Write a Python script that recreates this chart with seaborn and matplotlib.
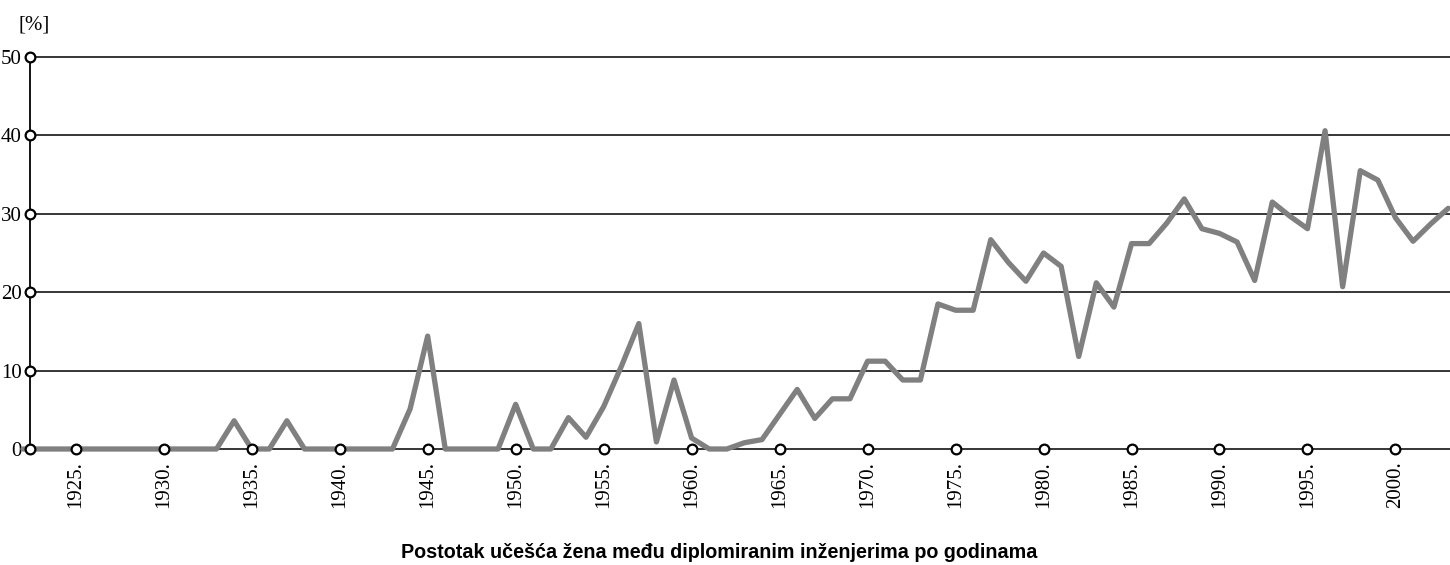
import numpy as np
import pandas as pd
import seaborn as sns
import matplotlib
matplotlib.use("Agg")
import matplotlib.pyplot as plt

# data
years = list(range(1922, 2004))
share = [0, 0, 0, 0, 0, 0, 0, 0, 0, 0,          # 1922-1931
         0, 0, 3.6, 0, 0, 3.6, 0, 0, 0, 0,      # 1932-1941
         0, 0, 5.1, 14.4, 0, 0, 0, 0, 5.7, 0,   # 1942-1951
         0, 4.0, 1.5, 5.4, 10.5, 16.0, 0.9, 8.8, 1.4, 0,   # 1952-1961
         0, 0.8, 1.2, 4.4, 7.6, 3.9, 6.4, 6.4, 11.2, 11.2,  # 1962-1971
         8.8, 8.8, 18.5, 17.7, 17.7, 26.7, 23.8, 21.4, 25.0, 23.3,  # 1972-1981
         11.8, 21.2, 18.1, 26.2, 26.2, 28.8, 31.9, 28.1, 27.5, 26.4,  # 1982-1991
         21.5, 31.5, 29.7, 28.1, 40.6, 20.7, 35.5, 34.3, 29.5, 26.5,  # 1992-2001
         28.7, 30.7]                            # 2002-2003
x_ticks = list(range(1925, 2001, 5))
x_labels = [f"{y}." for y in x_ticks]
y_ticks = [0, 10, 20, 30, 40, 50]
title = "Postotak učešća žena među diplomiranim inženjerima po godinama"

df = pd.DataFrame({"godina": years, "udio": share})

sns.set_style("white")
plt.rcParams["font.family"] = ["Liberation Serif", "DejaVu Serif"]
plt.rcParams["text.color"] = "black"
plt.rcParams["xtick.color"] = "black"
plt.rcParams["ytick.color"] = "black"

fig = plt.figure(figsize=(14.5, 5.65), dpi=100)
ax = fig.add_axes([30 / 1450, 1 - 449 / 565, 1 - 30 / 1450, (449 - 57) / 565])

x0, x1 = 1922.4, 2003.1
ax.set_xlim(x0, x1)
ax.set_ylim(0, 50)

# horizontal rules
for yv in y_ticks:
    ax.axhline(yv, color="black", lw=1.1, clip_on=False, zorder=1)

sns.lineplot(data=df, x="godina", y="udio", color="#808080", lw=3.8,
             ax=ax, zorder=3, clip_on=False)

# open-circle tick marks
ax.plot([x0] * len(y_ticks), y_ticks, "o", ms=7, mfc="white", mec="black",
        mew=1.6, clip_on=False, zorder=5)
ax.plot(x_ticks, [0] * len(x_ticks), "o", ms=7, mfc="white", mec="black",
        mew=1.6, clip_on=False, zorder=5)

for s in ["top", "right", "bottom"]:
    ax.spines[s].set_visible(False)
ax.spines["left"].set_color("black")
ax.spines["left"].set_linewidth(1.3)

ax.set_yticks(y_ticks)
ax.set_yticklabels([str(v) for v in y_ticks], fontsize=15)
ax.set_xticks(x_ticks)
ax.set_xticklabels(x_labels, rotation=90, fontsize=15)
ax.tick_params(axis="y", length=0, pad=6, labelcolor="black")
ax.tick_params(axis="x", length=0, pad=9, labelcolor="black")
ax.set_xlabel("")
ax.set_ylabel("")

fig.text(18 / 1450, 1 - 25 / 565, "[%]", fontsize=15, ha="left", va="center",
         color="black")
fig.text(719 / 1450, 1 - 553 / 565, title, fontsize=14.2, fontweight="bold",
         family=["Liberation Sans", "DejaVu Sans"], ha="center", va="center",
         color="black")

fig.savefig("out.png", dpi=100)
